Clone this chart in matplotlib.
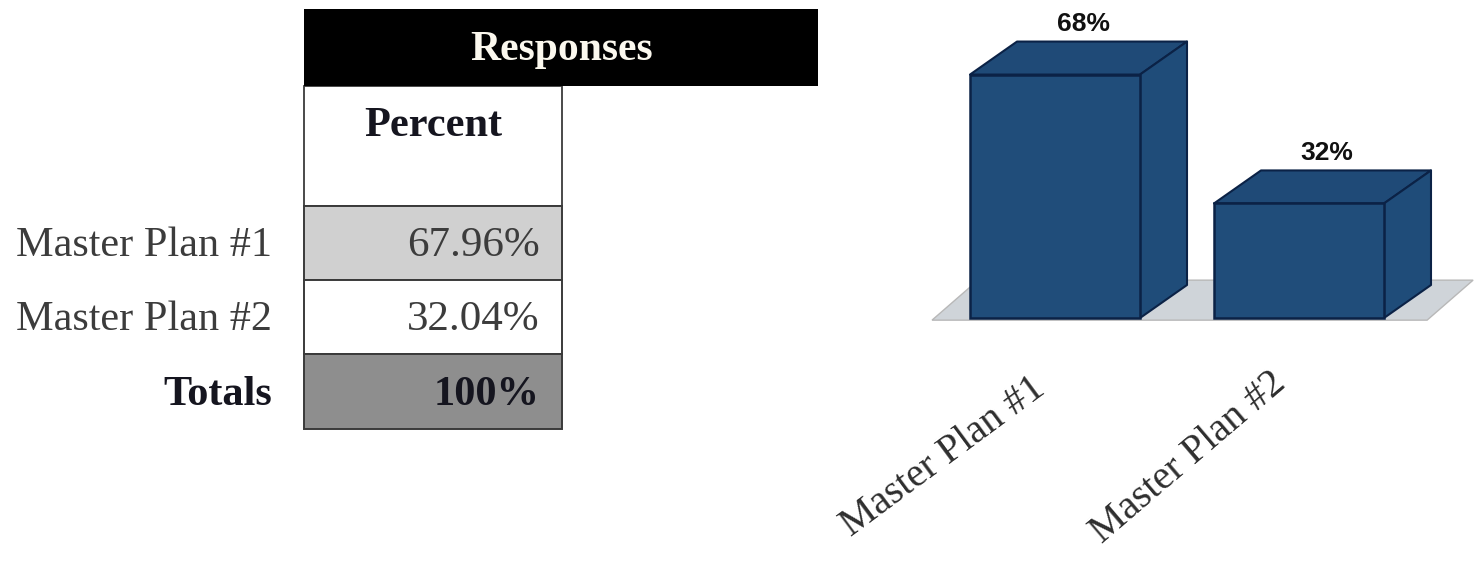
import matplotlib
matplotlib.use('Agg')
import matplotlib.pyplot as plt
from matplotlib.patches import Polygon, Rectangle

plt.rcParams['font.family'] = ['Liberation Serif', 'DejaVu Serif']

# table contents
header = 'Responses'
subheader = 'Percent'
row_names = ['Master Plan #1', 'Master Plan #2', 'Totals']
row_values = ['67.96%', '32.04%', '100%']

# bar chart contents
plans = ['Master Plan #1', 'Master Plan #2']
percents = [68, 32]

W, H = 1474, 569
fig = plt.figure(figsize=(W / 100, H / 100), dpi=100, facecolor='white')

# left part: table, laid out in pixels
tab = fig.add_axes([0, 0, 1, 1])
tab.set_xlim(0, W)
tab.set_ylim(H, 0)
tab.axis('off')

col_l, col_r, head_r = 304, 562, 818
row_edges = [206, 280, 354, 429]
row_fills = ['#d0d0d0', '#ffffff', '#8e8e8e']
line = '#3a3a3a'

tab.add_patch(Rectangle((col_l, 86), col_r - col_l, 120, fc='white', ec=line, lw=1.3))
tab.add_patch(Rectangle((col_l, 9), head_r - col_l, 77, fc='black', ec='none'))
tab.text((col_l + head_r) / 2 + 1, 50, header, color='#fbf8ee', fontsize=30,
         fontweight='bold', ha='center', va='center')
tab.text(433, 126, subheader, color='#15151f', fontsize=30.5, fontweight='bold',
         ha='center', va='center')

for i, (name, val) in enumerate(zip(row_names, row_values)):
    top, bot = row_edges[i], row_edges[i + 1]
    tab.add_patch(Rectangle((col_l, top), col_r - col_l, bot - top,
                            fc=row_fills[i], ec=line, lw=1.4))
    bold = name == 'Totals'
    weight = 'bold' if bold else 'normal'
    tcolor = '#15151f' if bold else '#3c3c3c'
    ymid = (top + bot) / 2 + 3
    tab.text(272, ymid, name, color=tcolor, fontsize=30.4, fontweight=weight,
             ha='right', va='center')
    tab.text(540, ymid, val, color=tcolor, fontsize=30.5 if bold else 31,
             fontweight=weight, ha='right', va='center')

# right part: 3d looking bars, x in categories, y in percent
px_per_cat = 244
px_per_pct = 3.58
x0_px, y0_px = 1055, 318
chart = fig.add_axes([0, 0, 1, 1], facecolor='none')
chart.set_xlim(-x0_px / px_per_cat, (W - x0_px) / px_per_cat)
chart.set_ylim((y0_px - H) / px_per_pct, y0_px / px_per_pct)
chart.axis('off')

bar_w = 170 / px_per_cat
dx = 47 / px_per_cat
dy = 33 / px_per_pct

# floor under the bars
fx0, fx1 = -0.504, 1.525
fy0, fdy, fdx = -0.6, 40 / px_per_pct, 46 / px_per_cat
chart.add_patch(Polygon([(fx0, fy0), (fx1, fy0), (fx1 + fdx, fy0 + fdy), (fx0 + fdx, fy0 + fdy)],
                        fc='#cfd4d9', ec='#b8b8b8', lw=1, zorder=1))

edge = '#0b2246'
# the two slanted labels do not sit at quite the same angle
label_rot = [36.5, 40.5]
label_dx = [-0.055, -0.075]
label_y = [-18.5, -17.0]
for i, (plan, pct) in enumerate(zip(plans, percents)):
    l, r = i - bar_w / 2, i + bar_w / 2
    chart.add_patch(Polygon([(l, pct), (r, pct), (r + dx, pct + dy), (l + dx, pct + dy)],
                            fc='#1f4a77', ec=edge, lw=1.5, zorder=2, joinstyle='round'))
    chart.add_patch(Polygon([(r, 0), (r + dx, dy), (r + dx, pct + dy), (r, pct)],
                            fc='#1f4c79', ec=edge, lw=1.5, zorder=2, joinstyle='round'))
    chart.add_patch(Rectangle((l, 0), bar_w, pct, fc='#204d7a', ec=edge, lw=1.8, zorder=3))
    chart.text(i + dx * 0.6, pct + dy + 4.9, f'{pct}%', family=['Liberation Sans'],
               fontsize=19, fontweight='bold', color='#111111', ha='center', va='center',
               zorder=4)
    chart.text(i + label_dx[i], label_y[i], plan, fontsize=29, color='#2e2e2e',
               rotation=label_rot[i], rotation_mode='anchor', ha='right', va='center',
               zorder=4)

fig.savefig('out.png', dpi=100, facecolor='white')
